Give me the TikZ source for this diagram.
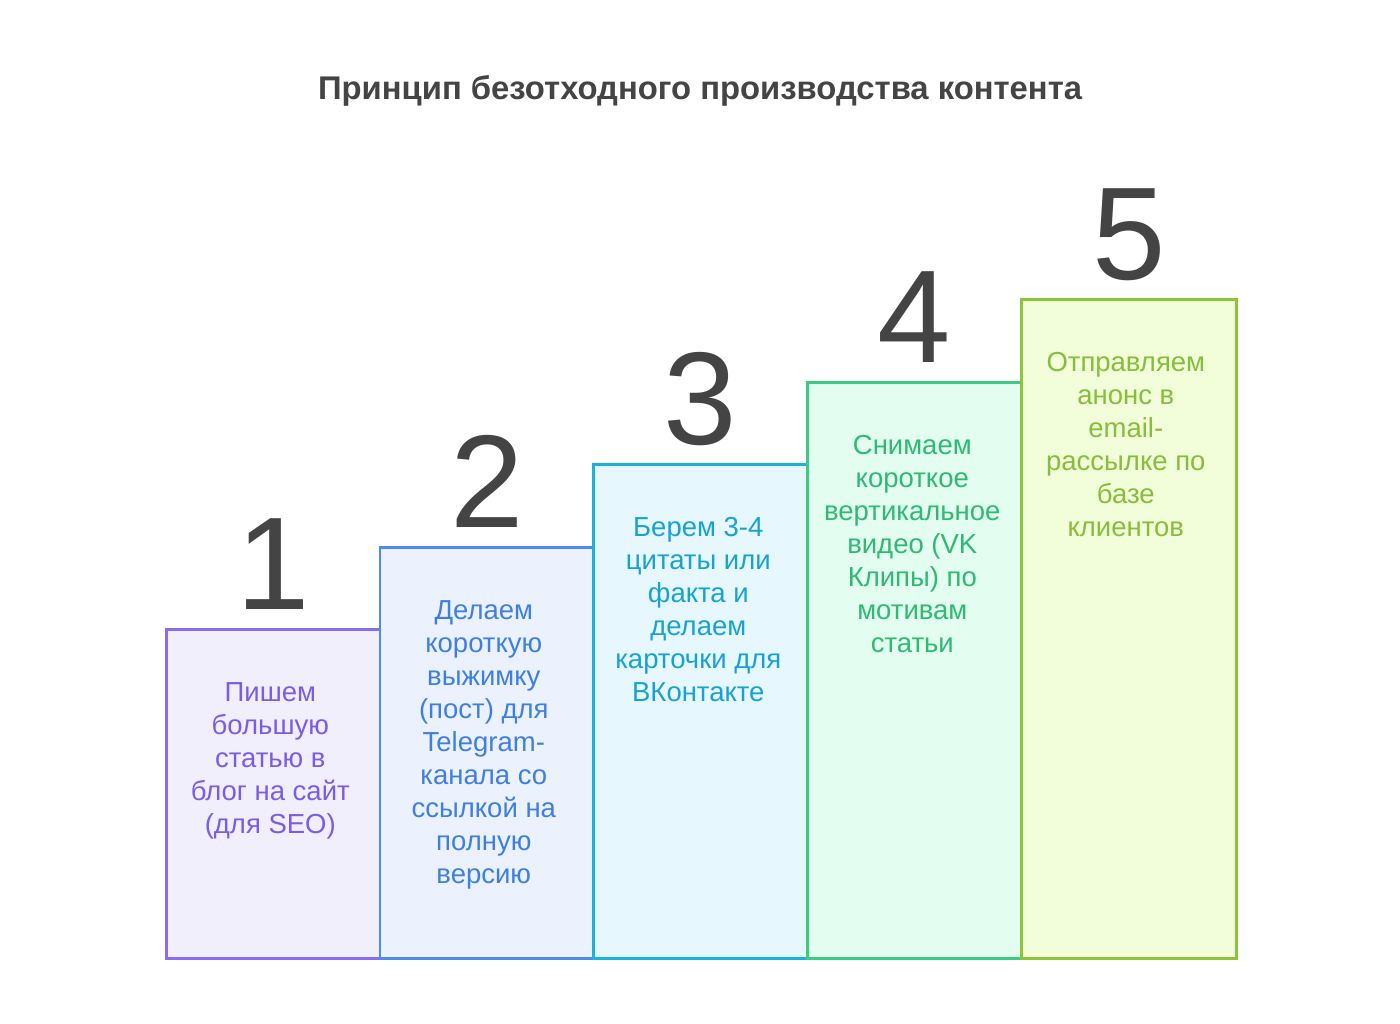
\documentclass[tikz,border=0pt]{standalone}
\usepackage{fontspec}
\setmainfont{Liberation Sans}
\definecolor{dark}{HTML}{444444}
\definecolor{pB}{HTML}{8B6CF0}\definecolor{pF}{HTML}{F2EFFD}\definecolor{pT}{HTML}{7B5CE6}
\definecolor{bB}{HTML}{4F8BE8}\definecolor{bF}{HTML}{EBF2FE}\definecolor{bT}{HTML}{3F7FE2}
\definecolor{cB}{HTML}{1CB0DA}\definecolor{cF}{HTML}{E6F7FD}\definecolor{cT}{HTML}{18A2D2}
\definecolor{gB}{HTML}{3CCB82}\definecolor{gF}{HTML}{E3FDF0}\definecolor{gT}{HTML}{2EBA72}
\definecolor{lB}{HTML}{8CC43A}\definecolor{lF}{HTML}{F2FDDA}\definecolor{lT}{HTML}{86BE3A}
\begin{document}
\begin{tikzpicture}[x=1pt,y=-1pt,
  stepbox/.style={draw=#1B,fill=#1F,line width=2.6pt,anchor=north west,minimum width=214pt,inner sep=0pt},
  steptext/.style={text=#1T,anchor=north,align=center,font=\fontsize{27.5}{33}\selectfont,inner sep=0pt},
  stepnum/.style={text=dark,anchor=base,font=\fontsize{132}{132}\selectfont,inner sep=0pt}]
\path[fill=white] (0,0) rectangle (1400,1023);
\node[text=dark,font=\bfseries\fontsize{32.8}{38}\selectfont,anchor=base] (title) at (700,99) {Принцип безотходного производства контента};
\node[stepbox=p,minimum height=329pt] (b1) at (165,628) {};
\node[stepbox=b,minimum height=411pt] (b2) at (378.5,546) {};
\node[stepbox=c,minimum height=494pt] (b3) at (592,463) {};
\node[stepbox=g,minimum height=576pt] (b4) at (806,381) {};
\node[stepbox=l,minimum height=659pt,minimum width=215pt] (b5) at (1020,298) {};
\node[stepnum] (n1) at ([yshift=19pt]b1.north) {1};
\node[stepnum] (n2) at ([yshift=19pt]b2.north) {2};
\node[stepnum] (n3) at ([yshift=19pt]b3.north) {3};
\node[stepnum] (n4) at ([yshift=19pt]b4.north) {4};
\node[stepnum] (n5) at ([yshift=19pt]b5.north) {5};
\node[steptext=p] (t1) at ([xshift=-3pt,yshift=-54pt]b1.north) {Пишем\\большую\\статью в\\блог на сайт\\(для SEO)};
\node[steptext=b] (t2) at ([xshift=-3pt,yshift=-54pt]b2.north) {Делаем\\короткую\\выжимку\\(пост) для\\Telegram-\\канала со\\ссылкой на\\полную\\версию};
\node[steptext=c] (t3) at ([xshift=-2pt,yshift=-54pt]b3.north) {Берем 3-4\\цитаты или\\факта и\\делаем\\карточки для\\ВКонтакте};
\node[steptext=g] (t4) at ([xshift=-2pt,yshift=-54pt]b4.north) {Снимаем\\короткое\\вертикальное\\видео (VK\\Клипы) по\\мотивам\\статьи};
\node[steptext=l] (t5) at ([xshift=-3pt,yshift=-54pt]b5.north) {Отправляем\\анонс в\\email-\\рассылке по\\базе\\клиентов};
\end{tikzpicture}
\end{document}
